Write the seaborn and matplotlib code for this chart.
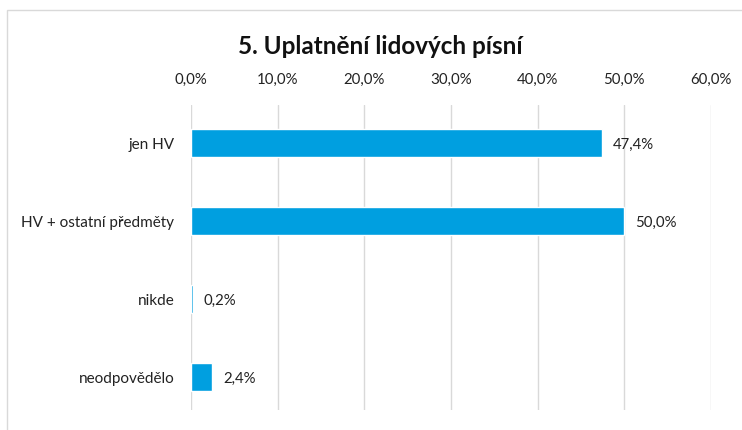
import matplotlib
matplotlib.use("Agg")
import matplotlib.pyplot as plt
import seaborn as sns
import pandas as pd
from matplotlib.patches import Rectangle
from matplotlib.ticker import FuncFormatter

categories = ["jen HV", "HV + ostatní předměty", "nikde", "neodpovědělo"]
values = [47.4, 50.0, 0.2, 2.4]
title = "5. Uplatnění lidových písní"

sns.set_theme(style="white")
plt.rcParams['font.family'] = ['Lato', 'DejaVu Sans']

df = pd.DataFrame({"cat": categories, "val": values})

fig = plt.figure(figsize=(7.42, 4.30), dpi=100)
ax = fig.add_axes([191/742, 1-410/430, 520/742, 305/430])

sns.barplot(data=df, x="val", y="cat", color="#009FE0", width=0.36, ax=ax,
            saturation=1, orient="h")

ax.set_xlim(0, 60)
ax.set_ylim(3.42, -0.49)
ax.set_xticks([0, 10, 20, 30, 40, 50, 60])
ax.xaxis.set_major_formatter(FuncFormatter(lambda v, p: f"{v:.1f}%".replace(".", ",")))
ax.xaxis.tick_top()
ax.tick_params(axis="x", length=0, pad=13, labelsize=10.8, labelcolor="#222222")
ax.tick_params(axis="y", length=0, pad=12, labelsize=11, labelcolor="#222222")
ax.set_xlabel("")
ax.set_ylabel("")
ax.grid(axis="x", color="#d9d9d9", linewidth=1)
ax.set_axisbelow(True)
for s in ax.spines.values():
    s.set_visible(False)

for i, v in enumerate(values):
    ax.text(v + 1.3, i + 0.02, f"{v:.1f}%".replace(".", ","), va="center", ha="left",
            fontsize=10.8, color="#222222")

fig.text(380/742, 1-46/430, title, ha="center", va="center", fontsize=17.5,
         fontweight="bold", color="#111111")

fig.patches.append(Rectangle((7/742, -0.01), 1.0, 1-10/430 + 0.01, transform=fig.transFigure,
                             fill=False, edgecolor="#d9d9d9", linewidth=1))

fig.savefig("out.png", dpi=100)
